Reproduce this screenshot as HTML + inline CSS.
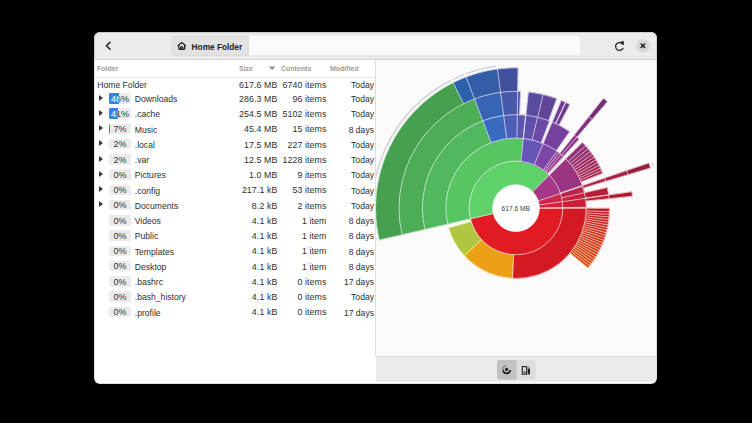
<!DOCTYPE html>
<html><head><meta charset="utf-8">
<style>
html,body{margin:0;padding:0;}
body{width:752px;height:423px;background:#000;position:relative;overflow:hidden;font-family:"Liberation Sans",sans-serif;}
.win{position:absolute;left:94.3px;top:32.2px;width:562.6px;height:351.5px;border-radius:6px;background:#ffffff;overflow:hidden;}
.hdr{position:absolute;left:94.3px;top:32.2px;width:562.6px;height:27.3px;background:#ebebeb;border-radius:6px 6px 0 0;}
.hdrb{position:absolute;left:94.3px;top:59.0px;width:562.6px;height:0.8px;background:#d4d4d4;}
.t{position:absolute;font-size:8.6px;line-height:8.6px;color:#2e2e2e;white-space:nowrap;}
.r{text-align:right;}
.n{font-size:8.8px;line-height:8.8px;letter-spacing:0.1px;}
.h{position:absolute;font-size:7.7px;line-height:7.7px;color:#9c9c9c;font-weight:bold;white-space:nowrap;top:65.18px;transform:scaleX(0.91);transform-origin:0 0;}
.tri{position:absolute;left:98.9px;width:0;height:0;border-top:3.5px solid transparent;border-bottom:3.5px solid transparent;border-left:4.1px solid #3a3a3a;}
.box{position:absolute;left:108.9px;width:22.2px;height:10.6px;background:#ebebeb;border-radius:1.2px;overflow:hidden;}
.fill{position:absolute;left:0;top:0;height:10.6px;background:#3584e4;border-radius:1.2px 0 0 1.2px;overflow:hidden;}
.pt{position:absolute;left:0;width:22.2px;text-align:center;font-size:9px;line-height:9px;color:#333;}
.pt.w{color:#fff;}
.sep{position:absolute;left:375.2px;top:59.8px;width:0.9px;height:296.6px;background:#dedede;}
.chartbg{position:absolute;left:376px;top:59.8px;width:280.9px;height:296.4px;background:#fafafa;}
.bot{position:absolute;left:375.6px;top:356.2px;width:280.2px;height:25.5px;background:#ebebeb;border-top:0.8px solid #dcdcdc;box-sizing:border-box;border-radius:0 0 4.5px 0;}
.chart{position:absolute;left:0;top:0;}
.wb{position:absolute;left:94.3px;top:32.2px;width:562.6px;height:351.5px;border-radius:6px;box-shadow:inset 0 0 0 0.9px rgba(0,0,0,0.13);}
</style></head><body>
<div class="win"></div>
<div class="hdr"></div>
<div class="hdrb"></div>
<div class="chartbg"></div>
<div class="bot"></div>
<div class="sep"></div>

<!-- header bar contents -->
<svg style="position:absolute;left:0;top:0" width="752" height="423">
  <path d="M110.0,42.4 L106.4,45.75 L110.0,49.1" fill="none" stroke="#262626" stroke-width="1.55" stroke-linecap="round" stroke-linejoin="round"/>
  <rect x="171.8" y="35.7" width="408.2" height="20.2" rx="4" fill="#fafafa"/>
  <path d="M175.8,36.1 H248.4 V55.5 H175.8 A3.6,3.6 0 0 1 172.2,51.9 V39.7 A3.6,3.6 0 0 1 175.8,36.1Z" fill="#e2e2e2" stroke="#d5d5d5" stroke-width="0.8"/>
  <rect x="171.8" y="55.3" width="408.2" height="0.9" fill="#dcdcdc" opacity="0.7"/>
  <!-- home icon -->
  <path d="M178.1,45.6 L181.75,42.5 L185.4,45.6 M178.8,45.2 V48.6 Q178.8,49.3 179.5,49.3 H184.0 Q184.7,49.3 184.7,48.6 V45.2" fill="none" stroke="#222" stroke-width="1.3" stroke-linejoin="round" stroke-linecap="round"/>
  <path d="M180.5,49.3 V47.9 A1.25,1.25 0 0 1 183.0,47.9 V49.3" fill="none" stroke="#222" stroke-width="1.1"/>
  <rect x="181.35" y="46.9" width="0.8" height="2.6" fill="#222"/>
  <!-- reload icon -->
  <path d="M622.6,44.2 A3.9,3.9 0 1 0 622.9,48.4" fill="none" stroke="#2b2b2b" stroke-width="1.3" stroke-linecap="round"/>
  <path d="M620.4,42.0 L623.6,41.6 L623.2,44.9 Z" fill="#2b2b2b" stroke="#2b2b2b" stroke-width="0.8" stroke-linejoin="round"/>
  <!-- close -->
  <circle cx="642.9" cy="45.7" r="6.8" fill="#d8d8d8"/>
  <path d="M641.1,43.9 L644.7,47.5 M644.7,43.9 L641.1,47.5" stroke="#1e1e1e" stroke-width="1.45" stroke-linecap="round"/>
  <!-- column header border -->
  <rect x="94.3" y="77.0" width="281" height="0.8" fill="#e3e3e3"/>
  <!-- sort arrow -->
  <path d="M269.0,66.6 L275.4,66.6 L272.2,69.9 Z" fill="#8a8a8a"/>
  <!-- bottom toggle buttons -->
  <rect x="497" y="360" width="38.6" height="19.8" rx="3.2" fill="#dcdcdc"/>
  <path d="M500.2,360 H516.6 V379.8 H500.2 A3.2,3.2 0 0 1 497,376.6 V363.2 A3.2,3.2 0 0 1 500.2,360Z" fill="#c2c2c2"/>
  <!-- rings icon -->
  <circle cx="506.6" cy="369.4" r="1.55" fill="#1a1a1a"/>
  <path d="M503.0,370.4 A3.7,3.7 0 0 0 510.3,370.0" fill="none" stroke="#1a1a1a" stroke-width="1.7"/>
  <path d="M503.0,370.2 A3.7,3.7 0 0 1 506.6,365.7" fill="none" stroke="#8a8a8a" stroke-width="1.5"/>
  <!-- treemap icon -->
  <rect x="522.3" y="366.6" width="4.4" height="7.6" fill="none" stroke="#1e1e1e" stroke-width="1.1"/>
  <rect x="523.4" y="371.6" width="2.2" height="1.2" fill="#1e1e1e"/>
  <rect x="527.8" y="368.5" width="2.2" height="5.9" fill="#1e1e1e"/>
  <rect x="527.8" y="366.4" width="2.2" height="1.6" fill="#aaa"/>
</svg>
<div class="t" style="left:191.6px;top:42.59px;font-size:8.4px;line-height:8.4px;font-weight:bold;color:#242424;letter-spacing:-0.06px">Home Folder</div>

<div class="h" style="left:97.1px">Folder</div>
<div class="h" style="left:239.0px">Size</div>
<div class="h" style="left:281.4px">Contents</div>
<div class="h" style="left:329.7px">Modified</div>

<div class="t" style="left:97.3px;top:81.12px">Home Folder</div>
<div class="t r n" style="right:474.60px;top:80.95px">617.6 MB</div>
<div class="t r n" style="right:425.50px;top:80.95px">6740 items</div>
<div class="t r" style="right:378.00px;top:81.12px">Today</div>
<div class="tri" style="top:94.65px"></div>
<div class="box" style="top:93.00px"><span class="pt" style="top:1.68px">46%</span><div class="fill" style="width:10.29px"><span class="pt w" style="top:1.68px">46%</span></div></div>
<div class="t" style="left:134.8px;top:95.02px">Downloads</div>
<div class="t r n" style="right:474.60px;top:94.85px">286.3 MB</div>
<div class="t r n" style="right:425.50px;top:94.85px">96 items</div>
<div class="t r" style="right:378.00px;top:95.02px">Today</div>
<div class="tri" style="top:109.90px"></div>
<div class="box" style="top:108.25px"><span class="pt" style="top:1.68px">41%</span><div class="fill" style="width:9.15px"><span class="pt w" style="top:1.68px">41%</span></div></div>
<div class="t" style="left:134.8px;top:110.27px">.cache</div>
<div class="t r n" style="right:474.60px;top:110.10px">254.5 MB</div>
<div class="t r n" style="right:425.50px;top:110.10px">5102 items</div>
<div class="t r" style="right:378.00px;top:110.27px">Today</div>
<div class="tri" style="top:125.15px"></div>
<div class="box" style="top:123.50px"><span class="pt" style="top:1.68px">7%</span><div class="fill" style="width:1.30px"><span class="pt w" style="top:1.68px">7%</span></div></div>
<div class="t" style="left:134.8px;top:125.52px">Music</div>
<div class="t r n" style="right:474.60px;top:125.35px">45.4 MB</div>
<div class="t r n" style="right:425.50px;top:125.35px">15 items</div>
<div class="t r" style="right:378.00px;top:125.52px">8 days</div>
<div class="tri" style="top:140.40px"></div>
<div class="box" style="top:138.75px"><span class="pt" style="top:1.68px">2%</span></div>
<div class="t" style="left:134.8px;top:140.77px">.local</div>
<div class="t r n" style="right:474.60px;top:140.60px">17.5 MB</div>
<div class="t r n" style="right:425.50px;top:140.60px">227 items</div>
<div class="t r" style="right:378.00px;top:140.77px">Today</div>
<div class="tri" style="top:155.65px"></div>
<div class="box" style="top:154.00px"><span class="pt" style="top:1.68px">2%</span></div>
<div class="t" style="left:134.8px;top:156.02px">.var</div>
<div class="t r n" style="right:474.60px;top:155.85px">12.5 MB</div>
<div class="t r n" style="right:425.50px;top:155.85px">1228 items</div>
<div class="t r" style="right:378.00px;top:156.02px">Today</div>
<div class="tri" style="top:170.90px"></div>
<div class="box" style="top:169.25px"><span class="pt" style="top:1.68px">0%</span></div>
<div class="t" style="left:134.8px;top:171.27px">Pictures</div>
<div class="t r n" style="right:474.60px;top:171.10px">1.0 MB</div>
<div class="t r n" style="right:425.50px;top:171.10px">9 items</div>
<div class="t r" style="right:378.00px;top:171.27px">Today</div>
<div class="tri" style="top:186.15px"></div>
<div class="box" style="top:184.50px"><span class="pt" style="top:1.68px">0%</span></div>
<div class="t" style="left:134.8px;top:186.52px">.config</div>
<div class="t r n" style="right:474.60px;top:186.35px">217.1 kB</div>
<div class="t r n" style="right:425.50px;top:186.35px">53 items</div>
<div class="t r" style="right:378.00px;top:186.52px">Today</div>
<div class="tri" style="top:201.40px"></div>
<div class="box" style="top:199.75px"><span class="pt" style="top:1.68px">0%</span></div>
<div class="t" style="left:134.8px;top:201.77px">Documents</div>
<div class="t r n" style="right:474.60px;top:201.60px">8.2 kB</div>
<div class="t r n" style="right:425.50px;top:201.60px">2 items</div>
<div class="t r" style="right:378.00px;top:201.77px">Today</div>
<div class="box" style="top:215.00px"><span class="pt" style="top:1.68px">0%</span></div>
<div class="t" style="left:134.8px;top:217.02px">Videos</div>
<div class="t r n" style="right:474.60px;top:216.85px">4.1 kB</div>
<div class="t r n" style="right:425.50px;top:216.85px">1 item</div>
<div class="t r" style="right:378.00px;top:217.02px">8 days</div>
<div class="box" style="top:230.25px"><span class="pt" style="top:1.68px">0%</span></div>
<div class="t" style="left:134.8px;top:232.27px">Public</div>
<div class="t r n" style="right:474.60px;top:232.10px">4.1 kB</div>
<div class="t r n" style="right:425.50px;top:232.10px">1 item</div>
<div class="t r" style="right:378.00px;top:232.27px">8 days</div>
<div class="box" style="top:245.50px"><span class="pt" style="top:1.68px">0%</span></div>
<div class="t" style="left:134.8px;top:247.52px">Templates</div>
<div class="t r n" style="right:474.60px;top:247.35px">4.1 kB</div>
<div class="t r n" style="right:425.50px;top:247.35px">1 item</div>
<div class="t r" style="right:378.00px;top:247.52px">8 days</div>
<div class="box" style="top:260.75px"><span class="pt" style="top:1.68px">0%</span></div>
<div class="t" style="left:134.8px;top:262.77px">Desktop</div>
<div class="t r n" style="right:474.60px;top:262.60px">4.1 kB</div>
<div class="t r n" style="right:425.50px;top:262.60px">1 item</div>
<div class="t r" style="right:378.00px;top:262.77px">8 days</div>
<div class="box" style="top:276.00px"><span class="pt" style="top:1.68px">0%</span></div>
<div class="t" style="left:134.8px;top:278.02px">.bashrc</div>
<div class="t r n" style="right:474.60px;top:277.85px">4.1 kB</div>
<div class="t r n" style="right:425.50px;top:277.85px">0 items</div>
<div class="t r" style="right:378.00px;top:278.02px">17 days</div>
<div class="box" style="top:291.25px"><span class="pt" style="top:1.68px">0%</span></div>
<div class="t" style="left:134.8px;top:293.27px">.bash_history</div>
<div class="t r n" style="right:474.60px;top:293.10px">4.1 kB</div>
<div class="t r n" style="right:425.50px;top:293.10px">0 items</div>
<div class="t r" style="right:378.00px;top:293.27px">Today</div>
<div class="box" style="top:306.50px"><span class="pt" style="top:1.68px">0%</span></div>
<div class="t" style="left:134.8px;top:308.52px">.profile</div>
<div class="t r n" style="right:474.60px;top:308.35px">4.1 kB</div>
<div class="t r n" style="right:425.50px;top:308.35px">0 items</div>
<div class="t r" style="right:378.00px;top:308.52px">17 days</div>

<svg class="chart" width="752" height="423" viewBox="0 0 752 423">
<defs><clipPath id="cp"><rect x="376" y="59.5" width="280.5" height="296.5"/></clipPath></defs>
<g clip-path="url(#cp)">
<g fill="none" stroke="#cfcfcf" stroke-width="1.4" stroke-linecap="butt">
<path d="M376.07,240.07A143.50,143.50 0 0 1 451.08,80.28"/>
<path d="M452.42,79.60A143.50,143.50 0 0 1 464.34,74.37"/>
<path d="M465.75,73.84A143.50,143.50 0 0 1 496.28,66.11"/>
<path d="M652.08,162.72A143.50,143.50 0 0 1 653.23,166.29"/>
</g>
<g stroke="#ffffff" stroke-width="0.6" stroke-linejoin="miter">
<g stroke-width="0.5"><path d="M562.80,208.25A46.80,46.80 0 0 1 470.42,218.87L493.21,213.56A23.40,23.40 0 0 0 539.40,208.25Z" fill="#e01b24" stroke="#e01b24"/>
<path d="M470.42,218.87A46.80,46.80 0 0 1 549.23,175.30L532.62,191.77A23.40,23.40 0 0 0 493.21,213.56Z" fill="#5ed169" stroke="#5ed169"/>
<path d="M549.23,175.30A46.80,46.80 0 0 1 560.43,193.56L538.22,200.90A23.40,23.40 0 0 0 532.62,191.77Z" fill="#a53789" stroke="#a53789"/>
<path d="M560.43,193.56A46.80,46.80 0 0 1 562.33,201.66L539.17,204.95A23.40,23.40 0 0 0 538.22,200.90Z" fill="#c8274d" stroke="#c8274d"/>
<path d="M562.33,201.66A46.80,46.80 0 0 1 562.80,207.59L539.40,207.92A23.40,23.40 0 0 0 539.17,204.95Z" fill="#d52036" stroke="#d52036"/>
<path d="M586.20,208.25A70.20,70.20 0 0 1 512.45,278.36L513.63,254.99A46.80,46.80 0 0 0 562.80,208.25Z" fill="#d31922" stroke="#d31922"/>
<path d="M512.45,278.36A70.20,70.20 0 0 1 464.16,255.59L481.44,239.81A46.80,46.80 0 0 0 513.63,254.99Z" fill="#eba017" stroke="#eba017"/>
<path d="M464.16,255.59A70.20,70.20 0 0 1 448.66,228.07L471.10,221.46A46.80,46.80 0 0 0 481.44,239.81Z" fill="#b1c640" stroke="#b1c640"/>
<path d="M447.63,224.17A70.20,70.20 0 0 1 523.34,138.43L520.89,161.71A46.80,46.80 0 0 0 470.42,218.87Z" fill="#58c563" stroke="#58c563"/>
<path d="M523.34,138.43A70.20,70.20 0 0 1 543.20,143.54L534.14,165.11A46.80,46.80 0 0 0 520.89,161.71Z" fill="#6656b7" stroke="#6656b7"/>
<path d="M543.20,143.54A70.20,70.20 0 0 1 556.87,151.17L543.24,170.20A46.80,46.80 0 0 0 534.14,165.11Z" fill="#7e45a8" stroke="#7e45a8"/>
<path d="M556.87,151.17A70.20,70.20 0 0 1 558.93,152.71L544.62,171.22A46.80,46.80 0 0 0 543.24,170.20Z" fill="#8f3a96" stroke="#8f3a96"/>
<path d="M558.93,152.71A70.20,70.20 0 0 1 561.03,154.40L546.02,172.35A46.80,46.80 0 0 0 544.62,171.22Z" fill="#923991" stroke="#923991"/>
<path d="M561.03,154.40A70.20,70.20 0 0 1 563.25,156.33L547.50,173.64A46.80,46.80 0 0 0 546.02,172.35Z" fill="#95378d" stroke="#95378d"/>
<path d="M563.25,156.33A70.20,70.20 0 0 1 563.88,156.91L547.92,174.02A46.80,46.80 0 0 0 547.50,173.64Z" fill="#983687" stroke="#983687"/>
<path d="M565.85,158.82A70.20,70.20 0 0 1 582.38,185.40L560.25,193.01A46.80,46.80 0 0 0 549.23,175.30Z" fill="#9b3481" stroke="#9b3481"/>
<path d="M582.65,186.21A70.20,70.20 0 0 1 584.46,192.70L561.64,197.88A46.80,46.80 0 0 0 560.43,193.56Z" fill="#bc2449" stroke="#bc2449"/>
<path d="M584.46,192.70A70.20,70.20 0 0 1 585.50,198.36L562.33,201.66A46.80,46.80 0 0 0 561.64,197.88Z" fill="#c3213d" stroke="#c3213d"/>
<path d="M585.50,198.36A70.20,70.20 0 0 1 586.19,207.26L562.80,207.59A46.80,46.80 0 0 0 562.33,201.66Z" fill="#c91e33" stroke="#c91e33"/>
<path d="M609.60,208.25A93.60,93.60 0 0 1 609.54,211.69L586.15,210.83A70.20,70.20 0 0 0 586.20,208.25Z" fill="#c51820" stroke="#c51820"/>
<path d="M609.54,211.69A93.60,93.60 0 0 1 609.40,214.36L586.05,212.83A70.20,70.20 0 0 0 586.15,210.83Z" fill="#c61b1f" stroke="#c61b1f"/>
<path d="M609.40,214.36A93.60,93.60 0 0 1 609.19,217.02L585.89,214.83A70.20,70.20 0 0 0 586.05,212.83Z" fill="#c71d1e" stroke="#c71d1e"/>
<path d="M609.19,217.02A93.60,93.60 0 0 1 608.90,219.67L585.68,216.82A70.20,70.20 0 0 0 585.89,214.83Z" fill="#c81f1d" stroke="#c81f1d"/>
<path d="M608.90,219.67A93.60,93.60 0 0 1 608.54,222.32L585.40,218.80A70.20,70.20 0 0 0 585.68,216.82Z" fill="#c8211c" stroke="#c8211c"/>
<path d="M608.54,222.32A93.60,93.60 0 0 1 608.10,224.95L585.07,220.78A70.20,70.20 0 0 0 585.40,218.80Z" fill="#c9241b" stroke="#c9241b"/>
<path d="M608.10,224.95A93.60,93.60 0 0 1 607.58,227.57L584.69,222.74A70.20,70.20 0 0 0 585.07,220.78Z" fill="#ca261a" stroke="#ca261a"/>
<path d="M607.58,227.57A93.60,93.60 0 0 1 607.00,230.18L584.25,224.69A70.20,70.20 0 0 0 584.69,222.74Z" fill="#cb2819" stroke="#cb2819"/>
<path d="M607.00,230.18A93.60,93.60 0 0 1 606.33,232.76L583.75,226.63A70.20,70.20 0 0 0 584.25,224.69Z" fill="#cb2a19" stroke="#cb2a19"/>
<path d="M606.33,232.76A93.60,93.60 0 0 1 605.60,235.33L583.20,228.56A70.20,70.20 0 0 0 583.75,226.63Z" fill="#cc2c18" stroke="#cc2c18"/>
<path d="M605.60,235.33A93.60,93.60 0 0 1 604.79,237.87L582.59,230.47A70.20,70.20 0 0 0 583.20,228.56Z" fill="#cd2f17" stroke="#cd2f17"/>
<path d="M604.79,237.87A93.60,93.60 0 0 1 603.91,240.39L581.93,232.36A70.20,70.20 0 0 0 582.59,230.47Z" fill="#ce3116" stroke="#ce3116"/>
<path d="M603.91,240.39A93.60,93.60 0 0 1 602.95,242.89L581.22,234.23A70.20,70.20 0 0 0 581.93,232.36Z" fill="#ce3315" stroke="#ce3315"/>
<path d="M602.95,242.89A93.60,93.60 0 0 1 601.93,245.36L580.45,236.08A70.20,70.20 0 0 0 581.22,234.23Z" fill="#cf3514" stroke="#cf3514"/>
<path d="M601.93,245.36A93.60,93.60 0 0 1 600.84,247.79L579.63,237.91A70.20,70.20 0 0 0 580.45,236.08Z" fill="#d03813" stroke="#d03813"/>
<path d="M600.84,247.79A93.60,93.60 0 0 1 599.68,250.19L578.76,239.71A70.20,70.20 0 0 0 579.63,237.91Z" fill="#d03a12" stroke="#d03a12"/>
<path d="M599.68,250.19A93.60,93.60 0 0 1 598.44,252.56L577.83,241.49A70.20,70.20 0 0 0 578.76,239.71Z" fill="#d13c12" stroke="#d13c12"/>
<path d="M598.44,252.56A93.60,93.60 0 0 1 597.15,254.90L576.86,243.24A70.20,70.20 0 0 0 577.83,241.49Z" fill="#d23e11" stroke="#d23e11"/>
<path d="M597.15,254.90A93.60,93.60 0 0 1 595.78,257.19L575.84,244.96A70.20,70.20 0 0 0 576.86,243.24Z" fill="#d34110" stroke="#d34110"/>
<path d="M595.78,257.19A93.60,93.60 0 0 1 594.36,259.45L574.77,246.65A70.20,70.20 0 0 0 575.84,244.96Z" fill="#d3430f" stroke="#d3430f"/>
<path d="M594.36,259.45A93.60,93.60 0 0 1 592.86,261.66L573.65,248.31A70.20,70.20 0 0 0 574.77,246.65Z" fill="#d4450e" stroke="#d4450e"/>
<path d="M592.86,261.66A93.60,93.60 0 0 1 591.31,263.83L572.48,249.94A70.20,70.20 0 0 0 573.65,248.31Z" fill="#d5470d" stroke="#d5470d"/>
<path d="M591.31,263.83A93.60,93.60 0 0 1 589.69,265.96L571.27,251.53A70.20,70.20 0 0 0 572.48,249.94Z" fill="#d6490c" stroke="#d6490c"/>
<path d="M589.69,265.96A93.60,93.60 0 0 1 588.02,268.04L570.01,253.09A70.20,70.20 0 0 0 571.27,251.53Z" fill="#d64c0c" stroke="#d64c0c"/>
<path d="M424.84,229.48A93.60,93.60 0 0 1 482.76,120.75L491.07,142.63A70.20,70.20 0 0 0 447.63,224.17Z" fill="#52b85d" stroke="#52b85d"/>
<path d="M482.76,120.75A93.60,93.60 0 0 1 503.62,115.47L506.72,138.67A70.20,70.20 0 0 0 491.07,142.63Z" fill="#3b6bc1" stroke="#3b6bc1"/>
<path d="M503.62,115.47A93.60,93.60 0 0 1 517.31,114.66L516.98,138.06A70.20,70.20 0 0 0 506.72,138.67Z" fill="#4d5eb6" stroke="#4d5eb6"/>
<path d="M517.31,114.66A93.60,93.60 0 0 1 525.62,115.15L523.22,138.42A70.20,70.20 0 0 0 516.98,138.06Z" fill="#5856af" stroke="#5856af"/>
<path d="M525.78,115.16A93.60,93.60 0 0 1 537.53,117.16L532.15,139.93A70.20,70.20 0 0 0 523.34,138.43Z" fill="#5f51ab" stroke="#5f51ab"/>
<path d="M537.53,117.16A93.60,93.60 0 0 1 549.54,120.87L541.16,142.71A70.20,70.20 0 0 0 532.15,139.93Z" fill="#694aa5" stroke="#694aa5"/>
<path d="M552.27,121.96A93.60,93.60 0 0 1 569.69,131.58L556.27,150.75A70.20,70.20 0 0 0 543.20,143.54Z" fill="#76409d" stroke="#76409d"/>
<path d="M574.40,135.10A93.60,93.60 0 0 1 576.79,137.08L561.59,154.87A70.20,70.20 0 0 0 559.80,153.39Z" fill="#8a3486" stroke="#8a3486"/>
<path d="M576.79,137.08A93.60,93.60 0 0 1 579.11,139.13L563.34,156.41A70.20,70.20 0 0 0 561.59,154.87Z" fill="#8c3382" stroke="#8c3382"/>
<path d="M582.46,142.34A93.60,93.60 0 0 1 585.71,145.79L568.28,161.41A70.20,70.20 0 0 0 565.85,158.82Z" fill="#913179" stroke="#913179"/>
<path d="M585.71,145.79A93.60,93.60 0 0 1 588.16,148.64L570.12,163.54A70.20,70.20 0 0 0 568.28,161.41Z" fill="#952f73" stroke="#952f73"/>
<path d="M588.16,148.64A93.60,93.60 0 0 1 590.40,151.46L571.80,165.65A70.20,70.20 0 0 0 570.12,163.54Z" fill="#972e6f" stroke="#972e6f"/>
<path d="M590.40,151.46A93.60,93.60 0 0 1 592.43,154.22L573.32,167.73A70.20,70.20 0 0 0 571.80,165.65Z" fill="#9a2d6a" stroke="#9a2d6a"/>
<path d="M592.43,154.22A93.60,93.60 0 0 1 594.32,156.99L574.74,169.81A70.20,70.20 0 0 0 573.32,167.73Z" fill="#9c2b66" stroke="#9c2b66"/>
<path d="M594.32,156.99A93.60,93.60 0 0 1 596.06,159.76L576.04,171.88A70.20,70.20 0 0 0 574.74,169.81Z" fill="#9f2a62" stroke="#9f2a62"/>
<path d="M596.06,159.76A93.60,93.60 0 0 1 597.66,162.51L577.25,173.95A70.20,70.20 0 0 0 576.04,171.88Z" fill="#a1295e" stroke="#a1295e"/>
<path d="M597.66,162.51A93.60,93.60 0 0 1 599.14,165.24L578.35,176.00A70.20,70.20 0 0 0 577.25,173.95Z" fill="#a3285a" stroke="#a3285a"/>
<path d="M599.14,165.24A93.60,93.60 0 0 1 600.48,167.95L579.36,178.03A70.20,70.20 0 0 0 578.35,176.00Z" fill="#a52756" stroke="#a52756"/>
<path d="M600.48,167.95A93.60,93.60 0 0 1 601.71,170.63L580.28,180.03A70.20,70.20 0 0 0 579.36,178.03Z" fill="#a82653" stroke="#a82653"/>
<path d="M601.71,170.63A93.60,93.60 0 0 1 602.78,173.19L581.09,181.95A70.20,70.20 0 0 0 580.28,180.03Z" fill="#aa254f" stroke="#aa254f"/>
<path d="M604.61,178.09A93.60,93.60 0 0 1 605.65,181.35L583.24,188.08A70.20,70.20 0 0 0 582.45,185.63Z" fill="#af2245" stroke="#af2245"/>
<path d="M607.27,187.51A93.60,93.60 0 0 1 608.62,194.74L585.46,198.12A70.20,70.20 0 0 0 584.46,192.70Z" fill="#b61f39" stroke="#b61f39"/>
<path d="M608.67,195.06A93.60,93.60 0 0 1 609.10,198.63L585.83,201.03A70.20,70.20 0 0 0 585.50,198.36Z" fill="#bc1c30" stroke="#bc1c30"/>
<path d="M402.05,234.79A117.00,117.00 0 0 1 474.45,98.88L482.76,120.75A93.60,93.60 0 0 0 424.84,229.48Z" fill="#4dac56" stroke="#4dac56"/>
<path d="M474.45,98.88A117.00,117.00 0 0 1 500.53,92.28L503.62,115.47A93.60,93.60 0 0 0 482.76,120.75Z" fill="#3764b4" stroke="#3764b4"/>
<path d="M500.53,92.28A117.00,117.00 0 0 1 517.63,91.26L517.31,114.66A93.60,93.60 0 0 0 503.62,115.47Z" fill="#4858aa" stroke="#4858aa"/>
<path d="M517.63,91.26A117.00,117.00 0 0 1 520.49,91.34L519.59,114.72A93.60,93.60 0 0 0 517.31,114.66Z" fill="#5250a3" stroke="#5250a3"/>
<path d="M528.43,91.91A117.00,117.00 0 0 1 543.11,94.44L537.69,117.20A93.60,93.60 0 0 0 525.95,115.18Z" fill="#594b9f" stroke="#594b9f"/>
<path d="M543.11,94.44A117.00,117.00 0 0 1 556.78,98.59L548.63,120.52A93.60,93.60 0 0 0 537.69,117.20Z" fill="#62459a" stroke="#62459a"/>
<path d="M561.34,100.39A117.00,117.00 0 0 1 565.45,102.21L555.56,123.42A93.60,93.60 0 0 0 552.27,121.96Z" fill="#6e3c93" stroke="#6e3c93"/>
<path d="M565.82,102.39A117.00,117.00 0 0 1 569.84,104.38L559.07,125.15A93.60,93.60 0 0 0 555.85,123.56Z" fill="#713a91" stroke="#713a91"/>
<path d="M588.83,116.68A117.00,117.00 0 0 1 592.14,119.42L576.91,137.18A93.60,93.60 0 0 0 574.27,135.00Z" fill="#80317d" stroke="#80317d"/>
<path d="M626.76,170.54A117.00,117.00 0 0 1 628.07,174.63L605.65,181.35A93.60,93.60 0 0 0 604.61,178.09Z" fill="#a32040" stroke="#a32040"/>
<path d="M631.83,191.76A117.00,117.00 0 0 1 632.38,196.22L609.10,198.63A93.60,93.60 0 0 0 608.67,195.06Z" fill="#af1a2d" stroke="#af1a2d"/>
<path d="M379.26,240.10A140.40,140.40 0 0 1 453.13,82.71L463.61,103.63A117.00,117.00 0 0 0 402.05,234.79Z" fill="#479f50" stroke="#479f50"/>
<path d="M453.13,82.71A140.40,140.40 0 0 1 466.14,77.00L474.45,98.88A117.00,117.00 0 0 0 463.61,103.63Z" fill="#2c61ab" stroke="#2c61ab"/>
<path d="M466.14,77.00A140.40,140.40 0 0 1 497.43,69.08L500.53,92.28A117.00,117.00 0 0 0 474.45,98.88Z" fill="#335da7" stroke="#335da7"/>
<path d="M497.43,69.08A140.40,140.40 0 0 1 517.96,67.86L517.63,91.26A117.00,117.00 0 0 0 500.53,92.28Z" fill="#42519d" stroke="#42519d"/>
<path d="M603.40,98.37A140.40,140.40 0 0 1 607.37,101.65L592.14,119.42A117.00,117.00 0 0 0 588.83,116.68Z" fill="#772d74" stroke="#772d74"/>
<path d="M648.91,163.00A140.40,140.40 0 0 1 650.48,167.90L628.07,174.63A117.00,117.00 0 0 0 626.76,170.54Z" fill="#971e3c" stroke="#971e3c"/></g>
<path fill="none" stroke-linecap="butt" d="M539.40,208.25L562.80,208.25M493.21,213.56L470.42,218.87M532.62,191.77L549.23,175.30M538.22,200.90L560.43,193.56M539.17,204.95L562.33,201.66M539.40,207.92L562.80,207.59M562.80,208.25L586.20,208.25M513.63,254.99L512.45,278.36M481.44,239.81L464.16,255.59M471.10,221.46L448.66,228.07M470.42,218.87L447.63,224.17M520.89,161.71L523.34,138.43M534.14,165.11L543.20,143.54M543.24,170.20L556.87,151.17M544.62,171.22L558.93,152.71M546.02,172.35L561.03,154.40M547.50,173.64L563.25,156.33M547.92,174.02L563.88,156.91M549.23,175.30L565.85,158.82M560.25,193.01L582.38,185.40M560.43,193.56L582.65,186.21M561.64,197.88L584.46,192.70M562.33,201.66L585.50,198.36M562.80,207.59L586.19,207.26M586.20,208.25L609.60,208.25M586.15,210.83L609.54,211.69M586.05,212.83L609.40,214.36M585.89,214.83L609.19,217.02M585.68,216.82L608.90,219.67M585.40,218.80L608.54,222.32M585.07,220.78L608.10,224.95M584.69,222.74L607.58,227.57M584.25,224.69L607.00,230.18M583.75,226.63L606.33,232.76M583.20,228.56L605.60,235.33M582.59,230.47L604.79,237.87M581.93,232.36L603.91,240.39M581.22,234.23L602.95,242.89M580.45,236.08L601.93,245.36M579.63,237.91L600.84,247.79M578.76,239.71L599.68,250.19M577.83,241.49L598.44,252.56M576.86,243.24L597.15,254.90M575.84,244.96L595.78,257.19M574.77,246.65L594.36,259.45M573.65,248.31L592.86,261.66M572.48,249.94L591.31,263.83M571.27,251.53L589.69,265.96M570.01,253.09L588.02,268.04M447.63,224.17L424.84,229.48M491.07,142.63L482.76,120.75M506.72,138.67L503.62,115.47M516.98,138.06L517.31,114.66M523.22,138.42L525.62,115.15M523.34,138.43L525.78,115.16M532.15,139.93L537.53,117.16M541.16,142.71L549.54,120.87M543.20,143.54L552.27,121.96M556.27,150.75L569.69,131.58M559.80,153.39L574.40,135.10M561.59,154.87L576.79,137.08M563.34,156.41L579.11,139.13M565.85,158.82L582.46,142.34M568.28,161.41L585.71,145.79M570.12,163.54L588.16,148.64M571.80,165.65L590.40,151.46M573.32,167.73L592.43,154.22M574.74,169.81L594.32,156.99M576.04,171.88L596.06,159.76M577.25,173.95L597.66,162.51M578.35,176.00L599.14,165.24M579.36,178.03L600.48,167.95M580.28,180.03L601.71,170.63M581.09,181.95L602.78,173.19M582.45,185.63L604.61,178.09M583.24,188.08L605.65,181.35M584.46,192.70L607.27,187.51M585.46,198.12L608.62,194.74M585.50,198.36L608.67,195.06M585.83,201.03L609.10,198.63M424.84,229.48L402.05,234.79M482.76,120.75L474.45,98.88M503.62,115.47L500.53,92.28M517.31,114.66L517.63,91.26M519.59,114.72L520.49,91.34M525.95,115.18L528.43,91.91M537.69,117.20L543.11,94.44M548.63,120.52L556.78,98.59M552.27,121.96L561.34,100.39M555.56,123.42L565.45,102.21M555.85,123.56L565.82,102.39M559.07,125.15L569.84,104.38M574.27,135.00L588.83,116.68M576.91,137.18L592.14,119.42M604.61,178.09L626.76,170.54M605.65,181.35L628.07,174.63M608.67,195.06L631.83,191.76M609.10,198.63L632.38,196.22M402.05,234.79L379.26,240.10M463.61,103.63L453.13,82.71M474.45,98.88L466.14,77.00M500.53,92.28L497.43,69.08M517.63,91.26L517.96,67.86M588.83,116.68L603.40,98.37M592.14,119.42L607.37,101.65M626.76,170.54L648.91,163.00M628.07,174.63L650.48,167.90M539.40,208.25A23.40,23.40 0 1 1 539.40,207.92M562.80,208.25A46.80,46.80 0 1 1 562.80,207.59M586.20,208.25A70.20,70.20 0 0 1 448.66,228.07M447.63,224.17A70.20,70.20 0 0 1 563.88,156.91M565.85,158.82A70.20,70.20 0 0 1 582.38,185.40M582.45,185.63A70.20,70.20 0 0 1 586.19,207.26M609.60,208.25A93.60,93.60 0 0 1 588.02,268.04M424.84,229.48A93.60,93.60 0 0 1 525.62,115.15M525.78,115.16A93.60,93.60 0 0 1 549.54,120.87M552.27,121.96A93.60,93.60 0 0 1 569.69,131.58M574.27,135.00A93.60,93.60 0 0 1 579.11,139.13M582.46,142.34A93.60,93.60 0 0 1 602.78,173.19M604.61,178.09A93.60,93.60 0 0 1 605.65,181.35M607.27,187.51A93.60,93.60 0 0 1 608.62,194.74M608.67,195.06A93.60,93.60 0 0 1 609.10,198.63M402.05,234.79A117.00,117.00 0 0 1 520.49,91.34M528.43,91.91A117.00,117.00 0 0 1 556.78,98.59M561.34,100.39A117.00,117.00 0 0 1 565.45,102.21M565.82,102.39A117.00,117.00 0 0 1 569.84,104.38M588.83,116.68A117.00,117.00 0 0 1 592.14,119.42M626.76,170.54A117.00,117.00 0 0 1 628.07,174.63M631.83,191.76A117.00,117.00 0 0 1 632.38,196.22M379.26,240.10A140.40,140.40 0 0 1 517.96,67.86M603.40,98.37A140.40,140.40 0 0 1 607.37,101.65M648.91,163.00A140.40,140.40 0 0 1 650.48,167.90"/>
</g>
<circle cx="516.0" cy="208.25" r="23.20" fill="#ffffff"/>
<text x="515.7" y="210.85" text-anchor="middle" font-family="Liberation Sans" font-size="6.6" fill="#3a3a3a">617.6 MB</text>
</g>
</svg>
<div class="wb"></div>
</body></html>
